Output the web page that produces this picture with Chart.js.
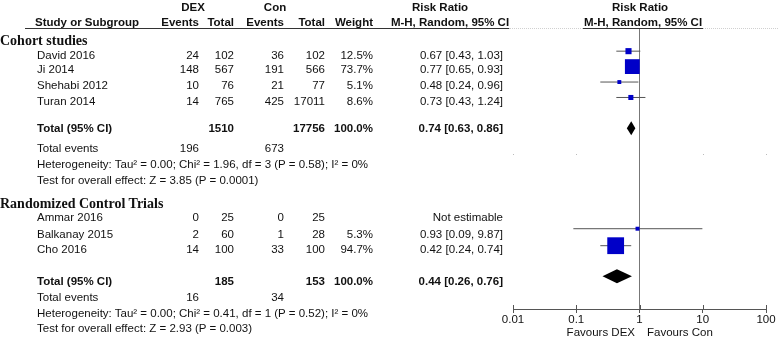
<!DOCTYPE html>
<html>
<head>
<meta charset="utf-8">
<script src="https://cdn.jsdelivr.net/npm/chart.js@4/dist/chart.umd.min.js"></script>
<style>
html, body { margin: 0; padding: 0; background: #fff; }
#wrap { position: relative; width: 778px; height: 340px; overflow: hidden; font-family: "Liberation Sans", Arial, sans-serif; font-size: 11.5px; color: #111; }
#wrap canvas { position: absolute; left: 0; top: 0; }
.t { position: absolute; white-space: nowrap; line-height: 14px; height: 14px; }
.b { font-weight: bold; }
.sec { font-family: "Liberation Serif", "Times New Roman", serif; font-weight: bold; font-size: 14px; }
.rule { position: absolute; height: 0; }
</style>
</head>
<body>
<div id="wrap">
  <canvas id="forest" width="778" height="340"></canvas>
  <div id="table"></div>
</div>
<script>
// ============================================
// FOREST PLOT - DEX vs Con, Risk Ratio (M-H, Random)
// ============================================

// --- cohort studies ---
const cohortStudies = ['David 2016', 'Ji 2014', 'Shehabi 2012', 'Turan 2014'];
const cohortDexEvents = [24, 148, 10, 14];
const cohortDexTotal = [102, 567, 76, 765];
const cohortConEvents = [36, 191, 21, 425];
const cohortConTotal = [102, 566, 77, 17011];
const cohortWeight = [12.5, 73.7, 5.1, 8.6];
const cohortRR = [0.67, 0.77, 0.48, 0.73];
const cohortLo = [0.43, 0.65, 0.24, 0.43];
const cohortHi = [1.03, 0.93, 0.96, 1.24];

// --- randomized control trials ---
const rctStudies = ['Ammar 2016', 'Balkanay 2015', 'Cho 2016'];
const rctDexEvents = [0, 2, 14];
const rctDexTotal = [25, 60, 100];
const rctConEvents = [0, 1, 33];
const rctConTotal = [25, 28, 100];
const rctWeight = [null, 5.3, 94.7];
const rctRR = [null, 0.93, 0.42];
const rctLo = [null, 0.09, 0.24];
const rctHi = [null, 9.87, 0.74];

// --- subgroup totals (cohort, rct) ---
const totalDexN = [1510, 185];
const totalConN = [17756, 153];
const totalDexEvents = [196, 16];
const totalConEvents = [673, 34];
const totalRR = [0.74, 0.44];
const totalLo = [0.63, 0.26];
const totalHi = [0.86, 0.76];
const heterogeneity = [
    'Heterogeneity: Tau² = 0.00; Chi² = 1.96, df = 3 (P = 0.58); I² = 0%',
    'Heterogeneity: Tau² = 0.00; Chi² = 0.41, df = 1 (P = 0.52); I² = 0%'
];
const overallEffect = [
    'Test for overall effect: Z = 3.85 (P = 0.0001)',
    'Test for overall effect: Z = 2.93 (P = 0.003)'
];

// --- axis ---
const xTicks = [0.01, 0.1, 1, 10, 100];
const xTickLabels = ['0.01', '0.1', '1', '10', '100'];

// --- row positions on the plot (row units) ---
const cohortRows = [0, 1, 2, 3];
const rctRows = [10.5, 11.5, 12.6];
const totalRows = [5, 14.58];
const dotRow = 6.66;

// --- text layout (pixel centres) ---
const cohortTextY = [54.5, 69, 85, 100.5];
const rctTextY = [217, 233.5, 249];
const sectionY = [41, 204];
const totalTextY = [128, 280.5];
const eventsTextY = [147.5, 297];
const hetTextY = [163.5, 313];
const testTextY = [180, 328];
const COL = { name: 37, dexEv: 199, dexN: 234, conEv: 284, conN: 325, weight: 373, rr: 503 };

const fmtRR = (rr, lo, hi) => `${rr.toFixed(2)} [${lo.toFixed(2)}, ${hi.toFixed(2)}]`;

function txt(str, x, y, align, cls) {
    const d = document.createElement('div');
    d.className = 't ' + (cls || '');
    d.textContent = str;
    d.style.top = (y - 7) + 'px';
    if (align === 'right') d.style.right = (778 - x) + 'px';
    else if (align === 'center') { d.style.left = x + 'px'; d.style.transform = 'translateX(-50%)'; }
    else d.style.left = x + 'px';
    document.getElementById('table').appendChild(d);
}

function rule(x1, x2, y, style) {
    const d = document.createElement('div');
    d.className = 'rule';
    d.style.left = x1 + 'px';
    d.style.width = (x2 - x1) + 'px';
    d.style.top = y + 'px';
    d.style.borderTop = style;
    document.getElementById('table').appendChild(d);
}

function studyRow(name, de, dn, ce, cn, w, rr, lo, hi, y) {
    txt(name, COL.name, y, 'left');
    txt(String(de), COL.dexEv, y, 'right');
    txt(String(dn), COL.dexN, y, 'right');
    txt(String(ce), COL.conEv, y, 'right');
    txt(String(cn), COL.conN, y, 'right');
    if (w !== null) txt(w.toFixed(1) + '%', COL.weight, y, 'right');
    txt(rr === null ? 'Not estimable' : fmtRR(rr, lo, hi), COL.rr, y, 'right');
}

function subgroupFooter(i) {
    txt('Total (95% CI)', COL.name, totalTextY[i], 'left', 'b');
    txt(String(totalDexN[i]), COL.dexN, totalTextY[i], 'right', 'b');
    txt(String(totalConN[i]), COL.conN, totalTextY[i], 'right', 'b');
    txt('100.0%', COL.weight, totalTextY[i], 'right', 'b');
    txt(fmtRR(totalRR[i], totalLo[i], totalHi[i]), COL.rr, totalTextY[i], 'right', 'b');
    txt('Total events', COL.name, eventsTextY[i], 'left');
    txt(String(totalDexEvents[i]), COL.dexEv, eventsTextY[i], 'right');
    txt(String(totalConEvents[i]), COL.conEv, eventsTextY[i], 'right');
    txt(heterogeneity[i], COL.name, hetTextY[i], 'left');
    txt(overallEffect[i], COL.name, testTextY[i], 'left');
}

function buildTable() {
    // header
    txt('DEX', 193, 7, 'center', 'b');
    txt('Con', 275, 7, 'center', 'b');
    txt('Risk Ratio', 440, 7, 'center', 'b');
    txt('Risk Ratio', 640, 7, 'center', 'b');
    txt('Study or Subgroup', 35, 21.5, 'left', 'b');
    txt('Events', COL.dexEv, 21.5, 'right', 'b');
    txt('Total', COL.dexN, 21.5, 'right', 'b');
    txt('Events', COL.conEv, 21.5, 'right', 'b');
    txt('Total', COL.conN, 21.5, 'right', 'b');
    txt('Weight', COL.weight, 21.5, 'right', 'b');
    txt('M-H, Random, 95% CI', 450, 21.5, 'center', 'b');
    txt('M-H, Random, 95% CI', 643, 21.5, 'center', 'b');
    rule(25, 509, 28, '1px solid #333');
    rule(509, 583, 28, '1px dotted #d0d0d0');
    rule(583, 703, 28, '1px solid #333');
    rule(703, 778, 28, '1px dotted #d0d0d0');

    txt('Cohort studies', 0, sectionY[0], 'left', 'sec');
    cohortStudies.forEach((s, i) => studyRow(s, cohortDexEvents[i], cohortDexTotal[i], cohortConEvents[i], cohortConTotal[i], cohortWeight[i], cohortRR[i], cohortLo[i], cohortHi[i], cohortTextY[i]));
    subgroupFooter(0);

    txt('Randomized Control Trials', 0, sectionY[1], 'left', 'sec');
    rctStudies.forEach((s, i) => studyRow(s, rctDexEvents[i], rctDexTotal[i], rctConEvents[i], rctConTotal[i], rctWeight[i], rctRR[i], rctLo[i], rctHi[i], rctTextY[i]));
    subgroupFooter(1);

    txt('Favours DEX', 635, 331.5, 'right');
    txt('Favours Con', 647, 331.5, 'left');
}

// diamonds for subgroup totals + upper half of the axis ticks
const forestPlugin = {
    id: 'forestExtras',
    afterDatasetsDraw(chart) {
        const { ctx, chartArea, scales: { x, y } } = chart;
        ctx.save();
        ctx.fillStyle = '#000';
        totalRR.forEach((rr, i) => {
            const yc = y.getPixelForValue(totalRows[i]);
            ctx.beginPath();
            ctx.moveTo(x.getPixelForValue(totalLo[i]), yc);
            ctx.lineTo(x.getPixelForValue(rr), yc - 7);
            ctx.lineTo(x.getPixelForValue(totalHi[i]), yc);
            ctx.lineTo(x.getPixelForValue(rr), yc + 7);
            ctx.closePath();
            ctx.fill();
        });
        ctx.strokeStyle = '#555';
        ctx.lineWidth = 1;
        ctx.fillStyle = '#bbb';
        const dy = Math.round(y.getPixelForValue(dotRow));
        xTicks.forEach(v => {
            const px = Math.round(x.getPixelForValue(v)) + 0.5;
            ctx.beginPath();
            ctx.moveTo(px, chartArea.bottom - 4);
            ctx.lineTo(px, chartArea.bottom);
            ctx.stroke();
            if (v !== 1) ctx.fillRect(px - 0.5, dy, 1, 1);
        });
        ctx.restore();
    }
};

function buildDatasets() {
    const points = [];
    const sizes = [];
    const whiskers = [];
    const add = (rr, lo, hi, w, row) => {
        if (rr === null) return;
        points.push({ x: rr, y: row });
        sizes.push(1.22 * Math.sqrt(w));
        whiskers.push({
            type: 'line',
            data: [{ x: lo, y: row }, { x: hi, y: row }],
            borderColor: '#555',
            borderWidth: 1,
            pointRadius: 0,
            order: 2
        });
    };
    cohortRR.forEach((rr, i) => add(rr, cohortLo[i], cohortHi[i], cohortWeight[i], cohortRows[i]));
    rctRR.forEach((rr, i) => add(rr, rctLo[i], rctHi[i], rctWeight[i], rctRows[i]));
    return [{
        type: 'scatter',
        data: points,
        pointStyle: 'rect',
        pointRadius: sizes,
        backgroundColor: '#0000c8',
        borderWidth: 0,
        order: 0
    }].concat(whiskers);
}

document.addEventListener('DOMContentLoaded', () => {
    buildTable();
    new Chart(document.getElementById('forest').getContext('2d'), {
        type: 'scatter',
        data: { datasets: buildDatasets() },
        options: {
            responsive: false,
            animation: false,
            events: [],
            layout: { padding: { left: 513, right: 12, top: 28, bottom: 0 } },
            plugins: { legend: { display: false }, tooltip: { enabled: false } },
            scales: {
                x: {
                    type: 'logarithmic',
                    min: 0.01,
                    max: 100,
                    afterBuildTicks: (s) => { s.ticks = xTicks.map(v => ({ value: v })); },
                    afterFit: (s) => { s.height = 31; },
                    grid: {
                        drawOnChartArea: true,
                        color: (c) => (c.tick && c.tick.value === 1 ? '#777' : 'rgba(0,0,0,0)'),
                        tickColor: '#555',
                        tickLength: 4
                    },
                    border: { display: true, color: '#555', width: 1 },
                    ticks: {
                        autoSkip: false,
                        maxRotation: 0,
                        padding: 0,
                        color: '#111',
                        font: { family: '"Liberation Sans", Arial, sans-serif', size: 11.5 },
                        callback: (v, i) => xTickLabels[i]
                    }
                },
                y: { type: 'linear', reverse: true, min: -1.5, max: 16.7, display: false }
            }
        },
        plugins: [forestPlugin]
    });
});
</script>
</body>
</html>
